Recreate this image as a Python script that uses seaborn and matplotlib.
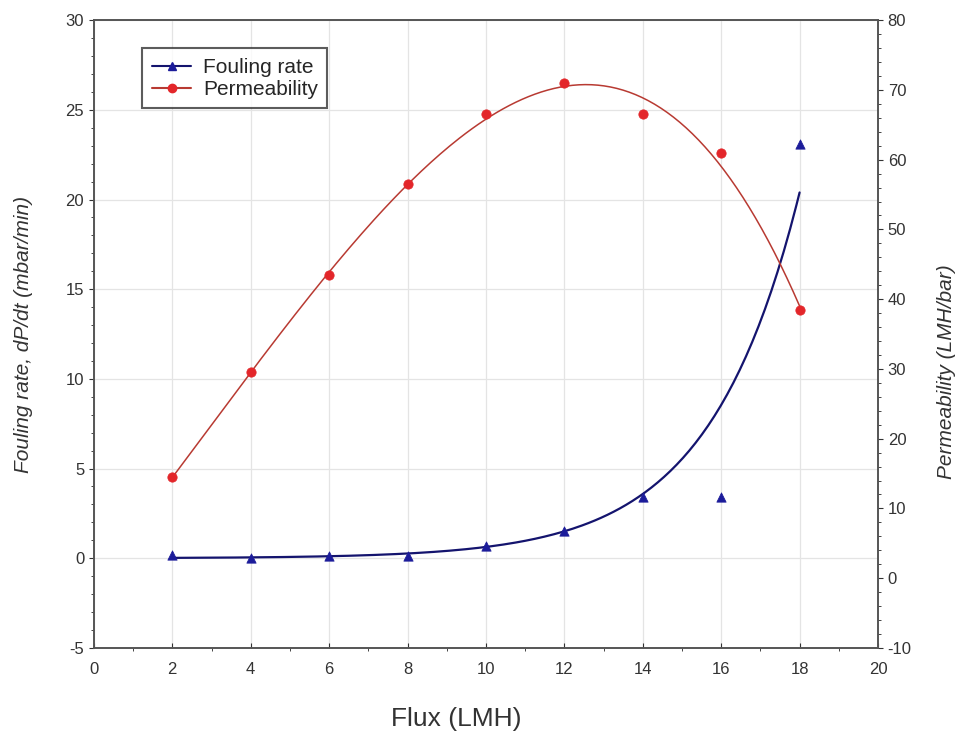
import matplotlib
matplotlib.use('Agg')
import matplotlib.pyplot as plt
import numpy as np
import pandas as pd
import seaborn as sns
from matplotlib.ticker import MultipleLocator
from matplotlib.lines import Line2D

# Data
flux = [2, 4, 6, 8, 10, 12, 14, 16, 18]
fouling_rate = [0.2, 0.0, 0.1, 0.1, 0.7, 1.5, 3.4, 3.4, 23.1]
permeability = [14.5, 29.5, 43.5, 56.5, 66.5, 71.0, 66.5, 61.0, 38.5]

df = pd.DataFrame({'flux': flux, 'fouling': fouling_rate, 'perm': permeability})

# Fitted trend curves computed from the points
xs = np.linspace(min(flux), max(flux), 200)
fx = np.array(flux, dtype=float)
fy = np.array(fouling_rate, dtype=float)
pos = fy > 0
# exponential fit (log-linear, weighted by the value)
k, b = np.polyfit(fx[pos], np.log(fy[pos]), 1, w=np.sqrt(fy[pos]))
fit_foul = pd.DataFrame({'flux': xs, 'fouling': np.exp(b + k * xs)})
fit_perm = pd.DataFrame({'flux': xs, 'perm': np.polyval(np.polyfit(flux, permeability, 4), xs)})

sns.set_style('ticks')
plt.rcParams['font.family'] = ['Liberation Sans', 'DejaVu Sans']
plt.rcParams['axes.unicode_minus'] = False

fig, ax = plt.subplots(figsize=(9.58, 7.49), dpi=100)
fig.subplots_adjust(left=0.098, right=0.9165, top=0.973, bottom=0.135)
ax2 = ax.twinx()

blue_line = '#14146e'
blue_pt = '#1c1c9a'
red_line = '#b83a32'
red_pt = '#e3262a'

sns.lineplot(data=fit_foul, x='flux', y='fouling', ax=ax, color=blue_line, lw=1.6)
sns.scatterplot(data=df, x='flux', y='fouling', ax=ax, color=blue_pt, marker='^', s=45, edgecolor=blue_pt, zorder=5)
sns.lineplot(data=fit_perm, x='flux', y='perm', ax=ax2, color=red_line, lw=1.1)
sns.scatterplot(data=df, x='flux', y='perm', ax=ax2, color=red_pt, marker='o', s=45, edgecolor=red_pt, zorder=5)

ax.set_xlim(0, 20)
ax.set_ylim(-5, 30)
ax2.set_ylim(-10, 80)
ax.xaxis.set_major_locator(MultipleLocator(2))
ax.xaxis.set_minor_locator(MultipleLocator(1))
ax.yaxis.set_major_locator(MultipleLocator(5))
ax.yaxis.set_minor_locator(MultipleLocator(1))
ax2.yaxis.set_major_locator(MultipleLocator(10))
ax2.yaxis.set_minor_locator(MultipleLocator(2))

ax.grid(True, color='#e4e4e4', lw=0.9)
ax.set_axisbelow(True)

for a in (ax, ax2):
    for s in a.spines.values():
        s.set_color('#555555')
        s.set_linewidth(1.2)
ax.tick_params(axis='x', direction='in', labelsize=12, colors='#333333', pad=10)
ax.tick_params(axis='y', direction='out', labelsize=12, colors='#333333')
ax2.tick_params(axis='y', direction='out', labelsize=12, colors='#333333')
ax.tick_params(which='minor', length=2)
ax2.tick_params(which='minor', length=2)

ax.set_xlabel('Flux (LMH)', fontsize=19, color='#333333')
ax.xaxis.set_label_coords(0.462, -0.094)
ax.set_ylabel('Fouling rate, dP/dt (mbar/min)', fontsize=15, style='italic', color='#333333')
ax.yaxis.set_label_coords(-0.078, 0.5)
ax2.set_ylabel('Permeability (LMH/bar)', fontsize=15, style='italic', color='#333333')
ax2.yaxis.set_label_coords(1.075, 0.44)

handles = [Line2D([], [], color=blue_line, marker='^', markerfacecolor=blue_pt, markeredgecolor=blue_pt, markersize=6),
           Line2D([], [], color=red_line, marker='o', markerfacecolor=red_pt, markeredgecolor=red_pt, markersize=6)]
leg = ax2.legend(handles, ['Fouling rate', 'Permeability'], loc='upper left',
                 bbox_to_anchor=(0.062, 0.955), borderaxespad=0, fontsize=15, frameon=True,
                 fancybox=False, edgecolor='#333333', handlelength=1.9, borderpad=0.45,
                 labelspacing=0.15, handletextpad=0.55)
leg.get_frame().set_linewidth(1.5)

fig.savefig('out.png', dpi=100)
